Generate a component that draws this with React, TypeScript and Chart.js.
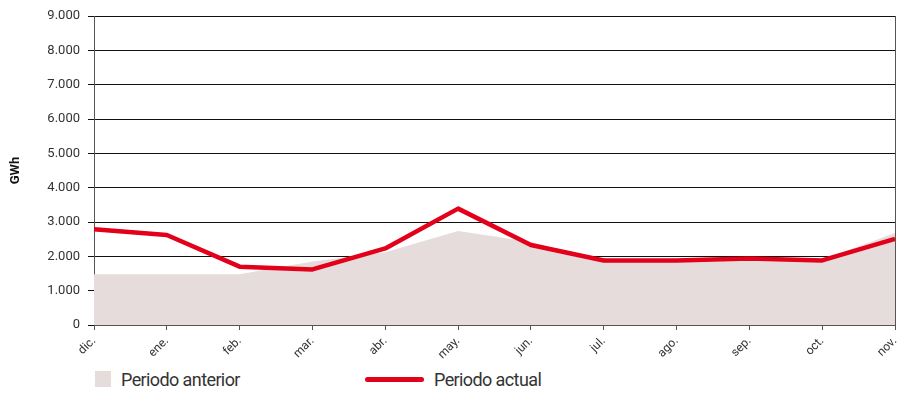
import React, { useEffect, useRef } from "react";
import { Chart, registerables } from "chart.js";

Chart.register(...registerables);

const categories = ["dic.", "ene.", "feb.", "mar.", "abr.", "may.", "jun.", "jul.", "ago.", "sep.", "oct.", "nov."];
const previousPeriod = [1480, 1480, 1480, 1850, 2120, 2740, 2420, 1860, 1880, 1930, 1900, 2680];
const currentPeriod = [2790, 2620, 1700, 1620, 2230, 3390, 2330, 1880, 1880, 1940, 1880, 2510];
const yTicks = [0, 1000, 2000, 3000, 4000, 5000, 6000, 7000, 8000, 9000];

const FONT = "'Liberation Sans Narrow', 'Roboto', 'Liberation Sans', sans-serif";

const rightBorder = {
  id: "rightBorder",
  afterDraw(chart: any) {
    const { ctx, chartArea } = chart;
    ctx.save();
    ctx.strokeStyle = "#555555";
    ctx.lineWidth = 1;
    ctx.beginPath();
    ctx.moveTo(chartArea.right + 0.5, chartArea.top);
    ctx.lineTo(chartArea.right + 0.5, chartArea.bottom + 5);
    ctx.stroke();
    ctx.restore();
  },
};

function fmt(v: number) {
  return v.toLocaleString("de-DE");
}

export default function App() {
  const ref = useRef<HTMLCanvasElement>(null);
  useEffect(() => {
    const chart = new Chart(ref.current!, {
      type: "line",
      data: {
        labels: categories,
        datasets: [
          {
            label: "Periodo actual",
            data: currentPeriod,
            borderColor: "#e2001a",
            borderWidth: 4.5,
            pointRadius: 0,
            fill: false,
            tension: 0,
            borderJoinStyle: "round",
          },
          {
            label: "Periodo anterior",
            data: previousPeriod,
            borderColor: "rgba(0,0,0,0)",
            borderWidth: 0,
            backgroundColor: "#e6dcdb",
            pointRadius: 0,
            fill: "origin",
            tension: 0,
          },
        ],
      },
      options: {
        animation: false,
        responsive: false,
        maintainAspectRatio: false,
        layout: { padding: { left: 0, right: 10, top: 8, bottom: 0 } },
        plugins: { legend: { display: false }, tooltip: { enabled: false } },
        scales: {
          x: {
            offset: false,
            afterFit: (axis: any) => {
              axis.paddingLeft = 0;
              axis.paddingRight = 0;
            },
            grid: { drawOnChartArea: false, drawTicks: true, tickLength: 5, color: "#555555" },
            border: { color: "#555555", width: 1 },
            ticks: {
              minRotation: 45,
              maxRotation: 45,
              padding: 4,
              color: "#333333",
              font: { family: FONT, size: 12 },
            },
          },
          y: {
            min: 0,
            max: 9000,
            afterFit: (axis: any) => {
              axis.width = 86;
              axis.paddingTop = 0;
              axis.paddingBottom = 0;
            },
            afterBuildTicks: (axis: any) => {
              axis.ticks = yTicks.map((v) => ({ value: v }));
            },
            grid: { color: "#111111", lineWidth: 1, drawTicks: true, tickLength: 6 },
            border: { color: "#555555", width: 1 },
            ticks: {
              callback: (v: any) => fmt(Number(v)),
              color: "#333333",
              padding: 8,
              font: { family: FONT, size: 13 },
            },
            title: {
              display: true,
              text: "GWh",
              color: "#111111",
              padding: { top: 0, bottom: 16 },
              font: { family: FONT, size: 13, weight: "bold" },
            },
          },
        },
      },
      plugins: [rightBorder],
    });
    return () => chart.destroy();
  }, []);

  return (
    <div style={{ position: "relative", width: 897, height: 390, fontFamily: FONT }}>
      <canvas ref={ref} width={897} height={358} style={{ display: "block" }} />
      <div style={{ position: "absolute", left: 87, top: 363, display: "flex", alignItems: "center", height: 16 }}>
        <span style={{ display: "inline-block", width: 16, height: 16, background: "#e6dcdb" }} />
        <span style={{ marginLeft: 10, fontSize: 18, letterSpacing: -0.6, color: "#333333" }}>Periodo anterior</span>
      </div>
      <div style={{ position: "absolute", left: 357, top: 363, display: "flex", alignItems: "center", height: 16 }}>
        <span style={{ display: "inline-block", width: 59, height: 5, borderRadius: 3, background: "#e2001a" }} />
        <span style={{ marginLeft: 10, fontSize: 18, letterSpacing: -0.6, color: "#333333" }}>Periodo actual</span>
      </div>
    </div>
  );
}
